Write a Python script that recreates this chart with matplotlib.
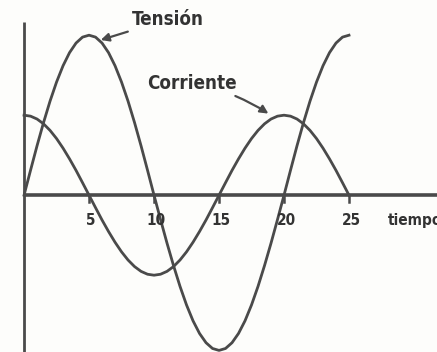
import matplotlib
matplotlib.use("Agg")
import matplotlib.pyplot as plt

# time axis, in steps of half a unit
tiempo = [i * 0.5 for i in range(51)]

# voltage curve
tension = [0.000, 0.156, 0.309, 0.454, 0.588, 0.707, 0.809, 0.891, 0.951, 0.988,
           1.000, 0.988, 0.951, 0.891, 0.809, 0.707, 0.588, 0.454, 0.309, 0.156,
           0.000, -0.152, -0.300, -0.440, -0.570, -0.686, -0.785, -0.864, -0.922, -0.958,
           -0.970, -0.958, -0.922, -0.864, -0.785, -0.686, -0.570, -0.440, -0.300, -0.152,
           0.000, 0.156, 0.309, 0.454, 0.588, 0.707, 0.809, 0.891, 0.951, 0.988,
           1.000]

# current curve
corriente = [0.500, 0.494, 0.476, 0.446, 0.405, 0.354, 0.294, 0.227, 0.155, 0.078,
             0.000, -0.078, -0.155, -0.227, -0.294, -0.354, -0.405, -0.446, -0.476, -0.494,
             -0.500, -0.494, -0.476, -0.446, -0.405, -0.354, -0.294, -0.227, -0.155, -0.078,
             0.000, 0.078, 0.155, 0.227, 0.294, 0.354, 0.405, 0.446, 0.476, 0.494,
             0.500, 0.494, 0.476, 0.446, 0.405, 0.354, 0.294, 0.227, 0.155, 0.078,
             0.000]

ticks = [5, 10, 15, 20, 25]

ink = '#4a4a4a'
txt = '#333333'
font = dict(family='DejaVu Sans', fontstretch='condensed')

fig = plt.figure(figsize=(4.37, 3.52), dpi=100)
fig.patch.set_facecolor('#fdfdfb')
ax = fig.add_axes([0, 0, 1, 1])
ax.set_facecolor('#fdfdfb')
ax.set_xlim(-1.85, 31.77)
ax.set_ylim(-0.98, 1.22)
ax.axis('off')

# hand drawn axes
ax.plot([0, 0], [-0.98, 1.08], color=ink, lw=2.0, solid_capstyle='butt')
ax.plot([0, 31.77], [0, 0], color=ink, lw=2.6, solid_capstyle='butt')
for t in ticks:
    ax.plot([t, t], [0, -0.045], color=ink, lw=1.8)
    ax.text(t + 0.15, -0.155, str(t), ha='center', va='center',
            fontsize=11, color=txt, fontweight='bold', **font)
ax.text(28.0, -0.155, 'tiempo', ha='left', va='center',
        fontsize=11, color=txt, fontweight='bold', **font, clip_on=False)

ax.plot(tiempo, tension, color=ink, lw=2.0)
ax.plot(tiempo, corriente, color=ink, lw=2.0)

# labels with arrows
ax.annotate('Tensión', xy=(5.9, 0.97), xytext=(8.3, 1.10),
            ha='left', va='center', fontsize=13.5, color=txt, fontweight='bold', **font,
            arrowprops=dict(arrowstyle='-|>', color=ink, lw=1.6,
                            mutation_scale=12, shrinkA=1, shrinkB=0))
ax.annotate('Corriente', xy=(18.8, 0.51), xytext=(9.5, 0.70),
            ha='left', va='center', fontsize=13.5, color=txt, fontweight='bold', **font,
            arrowprops=dict(arrowstyle='-|>', color=ink, lw=1.6,
                            mutation_scale=12, shrinkA=1, shrinkB=0,
                            connectionstyle='arc3,rad=-0.1'))

fig.savefig('out.png', dpi=100, facecolor=fig.get_facecolor())
